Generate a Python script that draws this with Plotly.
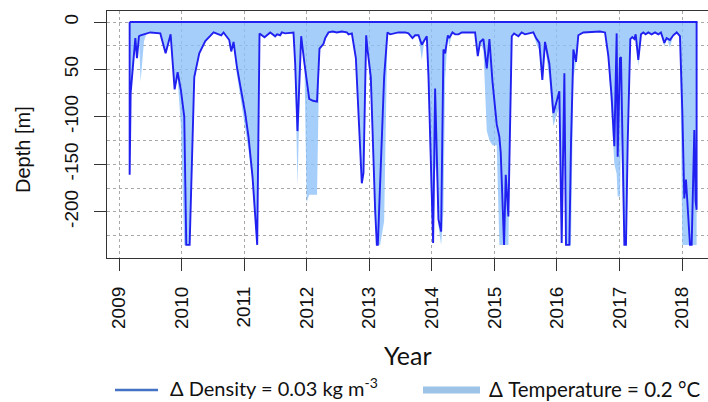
import plotly.graph_objects as go

# decimal year of each profile
t = [2009.170, 2009.186, 2009.223, 2009.261, 2009.287, 2009.319, 2009.345, 2009.400, 2009.440, 2009.500,
     2009.660, 2009.745, 2009.825, 2009.889, 2009.937, 2009.990, 2010.043, 2010.075, 2010.129, 2010.171,
     2010.203, 2010.283, 2010.379, 2010.512, 2010.592, 2010.634, 2010.671, 2010.724, 2010.762, 2010.794,
     2010.831, 2010.884, 2010.953, 2011.017, 2011.070, 2011.134, 2011.209, 2011.246, 2011.283, 2011.326,
     2011.417, 2011.497, 2011.528, 2011.576, 2011.603, 2011.656, 2011.789, 2011.816, 2011.853, 2011.912,
     2011.965, 2012.000, 2012.040, 2012.100, 2012.165, 2012.205, 2012.269, 2012.296, 2012.349, 2012.418,
     2012.482, 2012.562, 2012.642, 2012.668, 2012.722, 2012.786, 2012.828, 2012.881, 2012.908, 2012.951,
     2012.972, 2013.025, 2013.094, 2013.121, 2013.137, 2013.174, 2013.238, 2013.291, 2013.334, 2013.467,
     2013.574, 2013.627, 2013.691, 2013.734, 2013.787, 2013.840, 2013.883, 2013.920, 2013.947, 2013.989,
     2014.021, 2014.053, 2014.085, 2014.106, 2014.149, 2014.186, 2014.213, 2014.256, 2014.277, 2014.330,
     2014.373, 2014.426, 2014.479, 2014.692, 2014.735, 2014.772, 2014.825, 2014.879, 2014.921, 2014.969,
     2015.038, 2015.080, 2015.102, 2015.134, 2015.155, 2015.182, 2015.224, 2015.278, 2015.315, 2015.384,
     2015.437, 2015.490, 2015.623, 2015.666, 2015.719, 2015.767, 2015.810, 2015.879, 2015.943, 2015.986,
     2016.039, 2016.076, 2016.119, 2016.145, 2016.199, 2016.225, 2016.263, 2016.305, 2016.342, 2016.422,
     2016.688, 2016.769, 2016.822, 2016.875, 2016.918, 2016.955, 2016.971, 2017.008, 2017.024, 2017.078,
     2017.104, 2017.131, 2017.173, 2017.205, 2017.237, 2017.259, 2017.301, 2017.344, 2017.381, 2017.418,
     2017.461, 2017.514, 2017.568, 2017.621, 2017.663, 2017.717, 2017.754, 2017.807, 2017.860, 2017.914,
     2017.967, 2018.004, 2018.036, 2018.063, 2018.100, 2018.127, 2018.154, 2018.180, 2018.196, 2018.217,
     2018.233]

# mixed layer depth from density criterion (m)
dens = [-161, -75, -47, -17, -38, -15, -14, -13, -12, -11,
        -12, -33, -13, -71, -53, -72, -100, -235, -235, -135,
        -58, -33, -20, -11, -13, -14, -11, -15, -19, -31,
        -21, -47, -73, -96, -121, -163, -235, -12, -14, -16,
        -11, -15, -13, -14, -11, -12, -11, -44, -115, -15,
        -44, -62, -81, -83, -84, -28, -23, -17, -11, -10,
        -11, -10, -11, -13, -12, -38, -100, -170, -159, -14,
        -29, -58, -198, -235, -235, -163, -58, -11, -13, -11,
        -11, -12, -17, -14, -14, -24, -19, -15, -58, -163,
        -233, -70, -152, -208, -221, -29, -33, -14, -17, -11,
        -13, -13, -11, -11, -36, -21, -18, -49, -18, -62,
        -108, -121, -138, -187, -235, -161, -205, -15, -12, -15,
        -11, -13, -11, -17, -22, -61, -21, -44, -96, -86,
        -73, -233, -54, -235, -235, -128, -29, -42, -14, -11,
        -10, -11, -36, -79, -131, -12, -142, -38, -37, -235,
        -235, -128, -18, -16, -18, -13, -40, -13, -11, -13,
        -11, -13, -11, -13, -11, -22, -17, -19, -14, -11,
        -15, -93, -186, -166, -203, -235, -235, -138, -114, -189,
        -198]

# mixed layer depth from temperature criterion (m)
temp = [-161, -75, -47, -17, -38, -15, -63, -20, -12, -11,
        -12, -33, -13, -71, -60, -110, -235, -235, -235, -150,
        -62, -33, -20, -11, -13, -14, -11, -15, -19, -31,
        -21, -55, -85, -110, -135, -170, -235, -12, -14, -16,
        -11, -17, -13, -14, -11, -12, -11, -50, -173, -15,
        -50, -190, -182, -182, -182, -28, -23, -17, -11, -10,
        -11, -10, -11, -13, -12, -38, -100, -170, -159, -14,
        -29, -75, -210, -235, -235, -235, -210, -11, -13, -11,
        -11, -12, -17, -14, -14, -40, -19, -15, -70, -190,
        -235, -150, -170, -215, -235, -200, -60, -14, -25, -11,
        -13, -13, -11, -11, -36, -21, -30, -115, -125, -130,
        -130, -235, -235, -235, -235, -235, -235, -15, -12, -15,
        -11, -13, -11, -22, -30, -61, -25, -60, -110, -100,
        -90, -235, -80, -235, -235, -235, -60, -42, -14, -11,
        -10, -11, -40, -100, -150, -160, -184, -184, -120, -235,
        -235, -140, -18, -16, -18, -13, -47, -13, -11, -13,
        -11, -13, -11, -13, -11, -26, -17, -27, -14, -11,
        -15, -235, -235, -235, -235, -235, -235, -235, -235, -235,
        -235]

years = list(range(2009, 2019))
year_labels = [str(y) for y in years]
depth_ticks = [0, -50, -100, -150, -200]
depth_labels = ["0", "50", "-100", "-150", "-200"]
depth_minor = [-25, -75, -125, -175, -225]

W, H = 708, 402
L, R, T, B = 107, 0, 11, 144

def pxx(px):
    return (px - L) / (W - L - R)

def pxy(py):
    return (H - B - py) / (H - T - B)

fig = go.Figure()

# temperature MLD: filled area from surface
fig.add_trace(go.Scatter(
    x=t, y=temp, mode="lines", fill="tozeroy",
    line=dict(width=0, color="rgba(0,0,0,0)"),
    fillcolor="rgba(140,194,248,0.78)", hoverinfo="skip"))

# density MLD: closed outline
dx = [t[0]] + t + [t[-1], t[0]]
dy = [0] + dens + [0, 0]
fig.add_trace(go.Scatter(
    x=dx, y=dy, mode="lines",
    line=dict(width=1.9, color="#2020f0")))

axis_font = dict(family="Liberation Sans", size=19, color="#111111")
grid_col = "#a8a8a8"

fig.update_xaxes(
    range=[2008.808, 2018.415],
    tickmode="array", tickvals=years, ticktext=year_labels,
    tickangle=-90, ticks="outside", ticklen=12, tickcolor="#333333", tickwidth=1,
    ticklabelstandoff=8,
    showline=True, mirror=True, linecolor="#333333", linewidth=1.2,
    showgrid=True, gridcolor=grid_col, griddash="dot", gridwidth=1,
    zeroline=False, tickfont=axis_font)

fig.update_yaxes(
    range=[-248.8, 11.6],
    tickmode="array", tickvals=depth_ticks, ticktext=depth_labels,
    tickangle=-90, ticks="outside", ticklen=12, tickcolor="#333333", tickwidth=1,
    ticklabelstandoff=8,
    showline=True, mirror=False, linecolor="#333333", linewidth=1.2,
    showgrid=True, gridcolor=grid_col, griddash="dot", gridwidth=1,
    minor=dict(tickmode="array", tickvals=depth_minor, showgrid=True,
               gridcolor=grid_col, griddash="dot", gridwidth=1, ticks=""),
    zeroline=False, tickfont=axis_font)

annotations = [
    dict(text="Year", x=pxx(408), y=pxy(355), xref="paper", yref="paper",
         xanchor="center", yanchor="middle", showarrow=False,
         font=dict(family="Lato", size=25, color="#111111")),
    dict(text="Depth [m]", x=pxx(23), y=pxy(150), xref="paper", yref="paper",
         xanchor="center", yanchor="middle", showarrow=False, textangle=-90,
         font=dict(family="Liberation Sans", size=20, color="#111111")),
    dict(text="Δ Density = 0.03 kg m<sup>-3</sup>", x=pxx(168), y=pxy(387), xref="paper", yref="paper",
         xanchor="left", yanchor="middle", showarrow=False,
         font=dict(family="Lato", size=20, color="#111111")),
    dict(text="Δ Temperature = 0.2 °C", x=pxx(487), y=pxy(389), xref="paper", yref="paper",
         xanchor="left", yanchor="middle", showarrow=False,
         font=dict(family="Lato", size=20.5, color="#111111")),
]

shapes = [
    dict(type="line", xref="paper", yref="paper", x0=pxx(115), x1=pxx(158),
         y0=pxy(390), y1=pxy(390), line=dict(color="#4472c4", width=2.5)),
    dict(type="rect", xref="paper", yref="paper", x0=pxx(423), x1=pxx(480),
         y0=pxy(393.5), y1=pxy(386.5), fillcolor="#9dc3e6", line=dict(width=0)),
]

fig.update_layout(
    width=W, height=H, margin=dict(l=L, r=R, t=T, b=B, pad=0),
    plot_bgcolor="white", paper_bgcolor="white", showlegend=False,
    annotations=annotations, shapes=shapes)

fig.write_html("out.html")
